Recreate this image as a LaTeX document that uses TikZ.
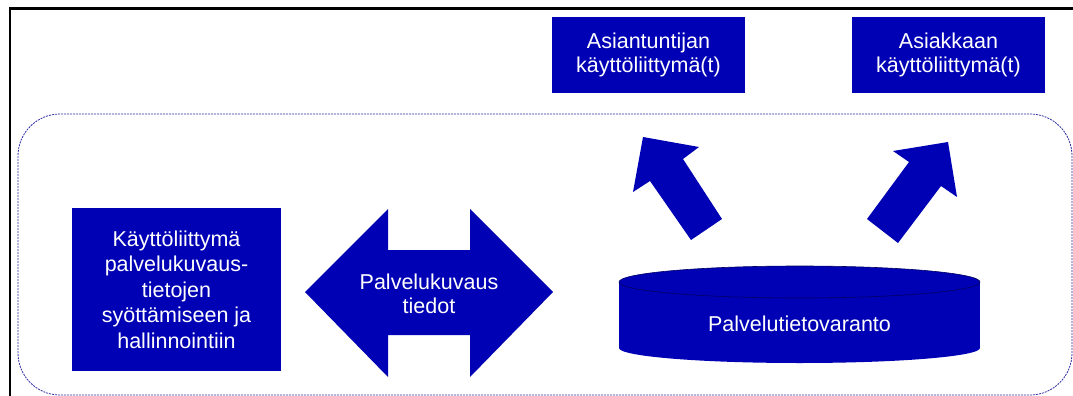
\documentclass[tikz,border=0pt]{standalone}
\usepackage{fontspec}
\setmainfont{Liberation Sans}
\definecolor{boxblue}{RGB}{0,0,180}
\definecolor{rimblue}{RGB}{0,0,100}
\definecolor{dashblue}{RGB}{45,45,165}
\begin{document}
\begin{tikzpicture}[x=1pt,y=-1pt,
  label text/.style={text=white,align=center,inner sep=0pt,
    font=\fontsize{21.5}{24.5}\selectfont},
  bluebox/.style={label text,fill=boxblue,draw=none},
  blockarrow/.style={fill=boxblue,draw=none}]
\useasboundingbox (0,0) rectangle (1073,396);

% page frame (top and left edges)
\draw[line width=2.2pt] (10,396) -- (10,8.5) -- (1073,8.5);

% dashed service area
\draw[dashblue,line width=0.8pt,dash pattern=on 2pt off 1pt,rounded corners=42pt]
  (18,114) rectangle (1072,395);

% user interface boxes
\node[bluebox,minimum width=193,minimum height=76] (expert) at (648.5,55)
  {Asiantuntijan\\käyttöliittymä(t)};
\node[bluebox,minimum width=193,minimum height=76] (customer) at (948.5,55)
  {Asiakkaan\\käyttöliittymä(t)};
\node[bluebox,minimum width=209,minimum height=163,font=\fontsize{21.5}{25.5}\selectfont]
  (editor) at (176.5,289.5)
  {Käyttöliittymä\\palvelukuvaus-\\tietojen\\syöttämiseen ja\\hallinnointiin};

% double block arrow
\fill[blockarrow] (305,292) -- (388,209) -- (388,250) -- (470,250) -- (470,209)
  -- (553,292) -- (470,377) -- (470,335) -- (388,335) -- (388,377) -- cycle;
\node[label text] (link) at (429,294) {Palvelukuvaus\\tiedot};

% database cylinder
\fill[boxblue] (799.5,348) ellipse [x radius=180.5pt,y radius=15pt];
\fill[boxblue] (619,282) rectangle (980,348);
\filldraw[fill=boxblue,draw=rimblue,line width=0.6pt]
  (799.5,282) ellipse [x radius=180.5pt,y radius=16pt];
\node[label text] (store) at (799.5,324) {Palvelutietovaranto};

% block arrows up to the interfaces
\fill[blockarrow] (643,137) -- (699,147) -- (683,159) -- (722,219) -- (691,240)
  -- (650,181) -- (633,192) -- cycle;
\fill[blockarrow] (948,142) -- (957,197) -- (941,186) -- (898,243) -- (867,219)
  -- (909,162) -- (893,151) -- cycle;
\end{tikzpicture}
\end{document}
